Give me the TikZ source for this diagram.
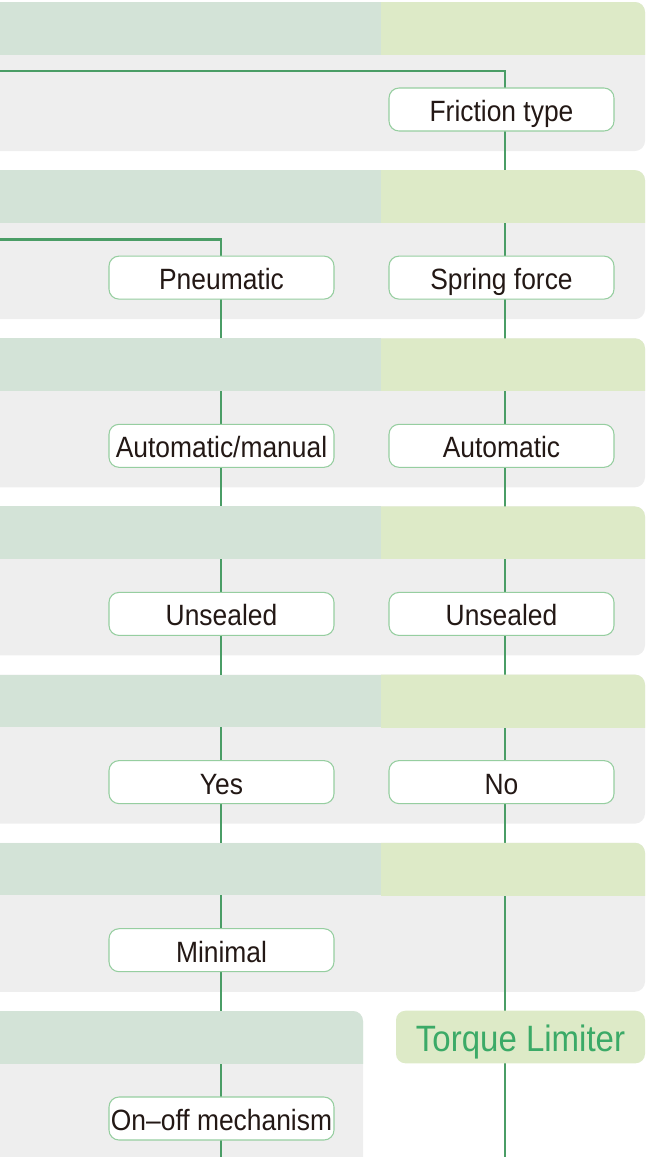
\documentclass[tikz,border=0pt]{standalone}
\usepackage{fontspec}
\setmainfont{Liberation Sans}[FakeStretch=0.9]
\usetikzlibrary{calc}
\definecolor{hdark}{RGB}{211,227,215}
\definecolor{hlight}{RGB}{221,234,199}
\definecolor{bodygray}{RGB}{238,238,238}
\definecolor{connc}{RGB}{74,157,102}
\definecolor{boxborder}{RGB}{150,206,160}
\definecolor{textdark}{RGB}{35,24,21}
\definecolor{tlgreen}{RGB}{59,170,103}
\pgfdeclarelayer{panel}
\pgfdeclarelayer{lines}
\pgfdeclarelayer{hdr}
\pgfsetlayers{panel,lines,hdr,main}
\tikzset{
  choice/.style={draw=boxborder, line width=0.8pt, fill=white, rounded corners=7.5pt,
    minimum width=168.75pt, minimum height=32.25pt, inner sep=0pt, text=textdark,
    text height=18.5pt, text depth=0.5pt,
    font=\fontsize{22}{24}\selectfont},
  result/.style={fill=hlight, rounded corners=7pt, minimum width=186.75pt,
    minimum height=39.4pt, inner sep=0pt, text=tlgreen,
    text height=21.6pt, text depth=0.4pt, font=\fontsize{27.5}{30}\selectfont},
  conn/.style={draw=connc, line width=2.1pt}
}
\begin{document}
\begin{tikzpicture}[x=0.75pt,y=-0.75pt]
\useasboundingbox (0,0) rectangle (648,1157);
\clip (0,0) rectangle (648,1157);
% panels rows 1-6
\foreach \i in {0,...,5}{
  \pgfmathsetmacro{\T}{2+168.15*\i}
  \begin{pgfonlayer}{panel}
    \fill[bodygray, rounded corners=7.5pt] (-30,\T) rectangle (645,\T+149);
  \end{pgfonlayer}
  \begin{pgfonlayer}{hdr}
    \fill[hdark] (-30,\T) rectangle (381,\T+52.5);
    \begin{scope}
      \clip (381,\T) rectangle (646,\T+52.5);
      \fill[hlight, rounded corners=7.5pt] (360,\T) rectangle (645,\T+80);
    \end{scope}
  \end{pgfonlayer}
}
% row 7 panel
\begin{pgfonlayer}{panel}
  \fill[bodygray, rounded corners=7.5pt] (-30,1011) rectangle (363,1220);
\end{pgfonlayer}
\begin{pgfonlayer}{hdr}
  \begin{scope}
    \clip (-30,1011) rectangle (364,1063.5);
    \fill[hdark, rounded corners=7.5pt] (-30,1011) rectangle (363,1090);
  \end{scope}
\end{pgfonlayer}
% nodes
\node[choice] (ft) at (501.5,109.5) {Friction type};
\node[choice] (pn) at (221.5,277.6) {Pneumatic};
\node[choice] (sf) at (501.5,277.6) {Spring force};
\node[choice] (am) at (221.5,445.8) {Automatic/manual};
\node[choice] (au) at (501.5,445.8) {Automatic};
\node[choice] (ul) at (221.5,613.9) {Unsealed};
\node[choice] (ur) at (501.5,613.9) {Unsealed};
\node[choice] (ye) at (221.5,782.1) {Yes};
\node[choice] (no) at (501.5,782.1) {No};
\node[choice] (mi) at (221.5,950.2) {Minimal};
\node[choice] (oo) at (221.5,1118.5) {On–off mechanism};
\node[result] (tl) at (520.5,1037) {Torque Limiter};
% connector coordinates
\coordinate (s1) at (-10,71);
\coordinate (c1) at (505,71);
\coordinate (e1) at (505,1170);
\coordinate (s2) at (-10,239.5);
\coordinate (c2) at (221,239.5);
\coordinate (e2) at (221,1170);
\begin{pgfonlayer}{lines}
  \draw[conn] (s1) -- (c1) -- (ft.center -| c1) -- (sf.center -| c1) -- (au.center -| c1)
    -- (ur.center -| c1) -- (no.center -| c1) -- (tl.center -| c1) -- (e1);
  \draw[conn] (s2) -- (c2) -- (pn.center -| c2) -- (am.center -| c2) -- (ul.center -| c2)
    -- (ye.center -| c2) -- (mi.center -| c2) -- (oo.center -| c2) -- (e2);
\end{pgfonlayer}
\end{tikzpicture}
\end{document}
